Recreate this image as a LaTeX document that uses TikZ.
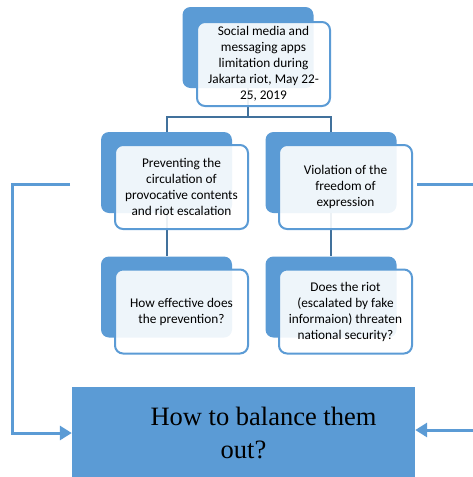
\documentclass[tikz,border=0pt]{standalone}
\usepackage{fontspec}
\setmainfont{Carlito}
\newfontfamily\balfont{Liberation Serif}
\usepackage{tikz}
\usetikzlibrary{arrows.meta,positioning}
\definecolor{officeblue}{HTML}{5B9BD5}
\definecolor{linkblue}{HTML}{41719C}

\tikzset{
  backbox/.style={fill=officeblue,rounded corners=8pt,minimum width=131pt,minimum height=81pt,inner sep=0pt},
  frontbox/.style={draw=officeblue,line width=2pt,fill=white,fill opacity=0.9,text opacity=1,rounded corners=8pt,
    minimum width=133pt,minimum height=84pt,inner sep=0pt,align=center,font=\fontsize{13.3}{16}\selectfont},
  link/.style={draw=linkblue,line width=2pt},
  sidelink/.style={draw=officeblue,line width=3pt},
  balbox/.style={fill=officeblue,minimum width=343pt,minimum height=92pt,align=center,
    font=\balfont\fontsize{26.5}{33}\selectfont}
}

\begin{document}
\begin{tikzpicture}[x=1pt,y=-1pt]
\useasboundingbox (0,0) rectangle (473,477);
% back boxes
\node[backbox] (topback) at (248,47.5) {};
\node[backbox] (prevback) at (166.5,172.5) {};
\node[backbox] (violback) at (331,172.5) {};
\node[backbox] (effback) at (166.5,297) {};
\node[backbox] (riotback) at (331,297) {};
% tree
\coordinate (fork) at (248,117);
\draw[link] (topback.south) -- (fork);
\draw[link] (fork) -| (prevback.north);
\draw[link] (fork) -| (violback.north);
\draw[link] (prevback.south) -- (effback.north);
\draw[link] (violback.south) -- (riotback.north);
% front boxes
\node[frontbox] (topfront) at (263.5,64) {Social media and\\messaging apps\\limitation during\\Jakarta riot, May 22-\\25, 2019};
\node[frontbox] (prevfront) at (181.5,187) {Preventing the\\circulation of\\provocative contents\\and riot escalation};
\node[frontbox] (violfront) at (345.5,187) {Violation of the\\freedom of\\expression};
\node[frontbox] (efffront) at (181.5,311.5) {How effective does\\the prevention?};
\node[frontbox] (riotfront) at (345.5,311.5) {Does the riot\\(escalated by fake\\informaion) threaten\\national security?};
% bottom
\node[balbox] (bal) at (243.5,433) {\hspace*{40pt}How to balance them\\out?};
\coordinate (lfree) at (70,184);
\coordinate (rtop) at (473,184);
\coordinate (rfree) at (473,430);
\draw[sidelink,-{Triangle[length=12pt,width=14pt]}] (lfree) -- (12,184) |- (bal.west);
\draw[sidelink,shorten <=4pt] (violfront.east |- rtop) -- (rtop);
\draw[sidelink,-{Triangle[length=12pt,width=14pt]}] (rfree) -- (bal.east |- rfree);
\end{tikzpicture}
\end{document}
